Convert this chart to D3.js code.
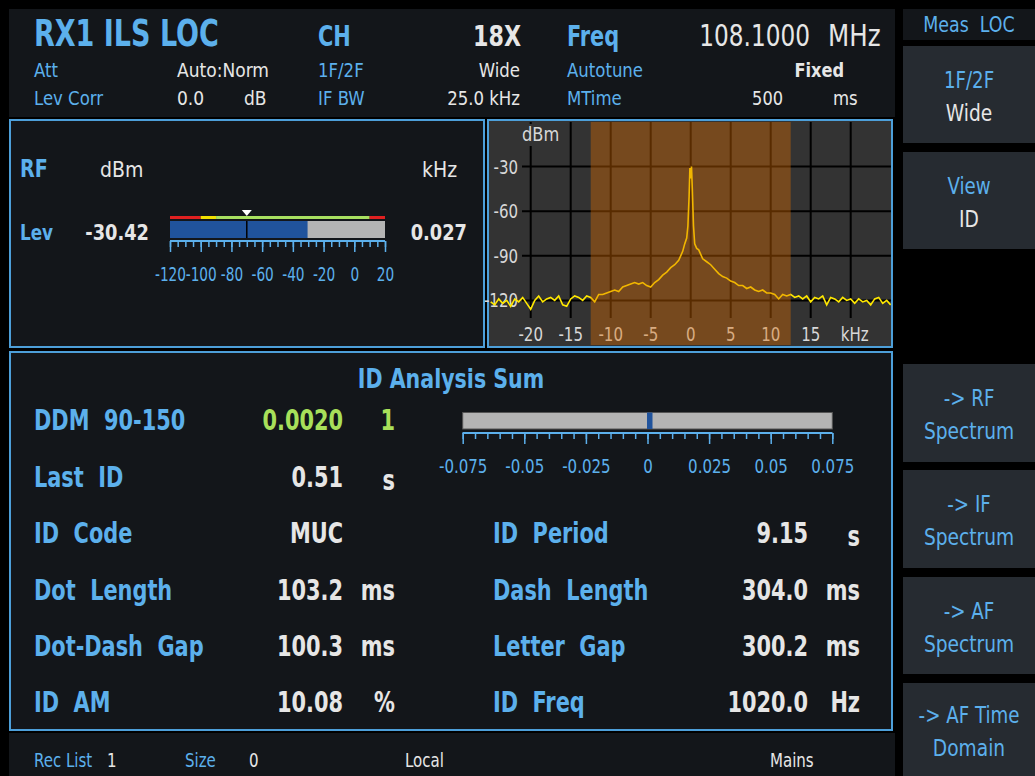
<!DOCTYPE html>
<html>
<head>
<meta charset="utf-8">
<script src="https://cdn.jsdelivr.net/npm/d3@7"></script>
<style>
  html, body { margin: 0; padding: 0; background: #000; overflow: hidden; }
  svg { display: block; }
  text { font-family: "DejaVu Sans Condensed", "DejaVu Sans", sans-serif; white-space: pre; }
</style>
</head>
<body>
<svg id="chart"></svg>
<script>
// header
const headerTitle = "RX1 ILS LOC";
const headerChannel = ["CH", "18X"];
const headerFreq = ["Freq", "108.1000", "MHz"];
const headerLeft = [["Att", "Auto:Norm", ""], ["Lev Corr", "0.0", "dB"]];
const headerMid = [["1F/2F", "Wide"], ["IF BW", "25.0 kHz"]];
const headerRight = [["Autotune", "Fixed", ""], ["MTime", "500", "ms"]];

// RF level bar
const rfUnits = ["dBm", "kHz"];
const rfLevel = -30.42;
const rfFreqOffset = 0.027;
const rfRefLevel = -70;
const rfScaleTicks = [-120, -100, -80, -60, -40, -20, 0, 20];
const rfLimitEdges = [-120, -100, -90, 10, 20];
const rfLimitState = ["fail", "warn", "pass", "fail"];

// IF spectrum
const specFreqTicks = [-20, -15, -10, -5, 0, 5, 10, 15, 20];
const specLevelTicks = [-30, -60, -90, -120];
const specBandwidth = 25;
const traceFreq = [-25, -24.5, -24, -23.5, -23, -22.5, -22, -21.5, -21, -20.5, -20, -19.5, -19, -18.5, -18, -17.5, -17, -16.5, -16, -15.5, -15, -14.5, -14, -13.5, -13, -12.5,
  -12, -11.5, -11, -10.5, -10, -9.5, -9, -8.5, -8, -7.5, -7, -6.5, -6, -5.5, -5, -4.5, -4, -3.5, -3, -2.5, -2, -1.5, -1, -0.75, -0.5, -0.35, -0.2, -0.1,
  0, 0.1, 0.2, 0.35, 0.5, 0.75, 1, 1.5, 2, 2.5, 3, 3.5, 4, 4.5, 5, 5.5, 6, 6.5, 7, 7.5, 8, 8.5, 9, 9.5, 10, 10.5, 11, 11.5, 12, 12.5,
  13, 13.5, 14, 14.5, 15, 15.5, 16, 16.5, 17, 17.5, 18, 18.5, 19, 19.5, 20, 20.5, 21, 21.5, 22, 22.5, 23, 23.5, 24, 24.5, 25];
const traceLevel = [-121, -123, -119, -122, -120, -124, -119, -121, -118, -122, -126, -120, -117, -121, -119, -118, -120, -117, -123, -124, -119, -117, -118, -120, -117, -118,
  -121, -116, -116, -115, -114, -113, -114, -111, -110, -109, -108, -109, -108, -110, -111, -108, -106, -103, -101, -98, -96, -93, -87, -82, -78, -70, -50, -31,
  -38, -30, -45, -70, -82, -85, -86, -92, -94, -96, -99, -102, -104, -105, -107, -108, -110, -110, -112, -111, -113, -114, -113, -115, -115, -116, -119, -116, -117, -116,
  -118, -117, -119, -117, -121, -118, -119, -117, -123, -118, -119, -121, -118, -120, -119, -122, -119, -121, -120, -123, -119, -118, -122, -120, -123];

// ID analysis
const ddmValue = 0.0020;
const ddmTicks = [-0.075, -0.05, -0.025, 0, 0.025, 0.05, 0.075];
const idLeftLabels = ["DDM  90-150", "Last  ID", "ID  Code", "Dot  Length", "Dot-Dash  Gap", "ID  AM"];
const idLeftValues = ["0.0020", "0.51", "MUC", "103.2", "100.3", "10.08"];
const idLeftUnits = ["1", "s", "", "ms", "ms", "%"];
const idRightLabels = ["ID  Period", "Dash  Length", "Letter  Gap", "ID  Freq"];
const idRightValues = ["9.15", "304.0", "300.2", "1020.0"];
const idRightUnits = ["s", "ms", "ms", "Hz"];

// softkeys and status line
const softkeys = [["Meas  LOC"], ["1F/2F", "Wide"], ["View", "ID"], ["-> RF", "Spectrum"], ["-> IF", "Spectrum"], ["-> AF", "Spectrum"], ["-> AF Time", "Domain"]];
const statusItems = [["Rec List", "1"], ["Size", "0"], ["", "Local"], ["", "Mains"]];

const W = 1035, H = 776;
const blue = "#5cb0ec", white = "#e6e6e6", panelBg = "#13161a", border = "#4d9fd9";
const limitColor = { fail: "#e02020", warn: "#f0e000", pass: "#a8e060" };

const svg = d3.select("#chart").attr("width", W).attr("height", H);
svg.append("rect").attr("width", W).attr("height", H).attr("fill", "#000");

// condensed text: the screen font is narrower than anything installed, so squeeze it
function txt(g, x, y, s, size, fill, opts = {}) {
  const sx = opts.sx || (opts.bold ? 0.8 : 0.9);
  return g.append("text").attr("transform", `translate(${x},${y}) scale(${sx},1)`).text(s)
    .attr("font-size", size).attr("fill", fill)
    .attr("font-weight", opts.bold ? "bold" : null)
    .attr("text-anchor", opts.anchor || "start");
}

// ---------- header ----------
const hdr = svg.append("g");
hdr.append("rect").attr("x", 9).attr("y", 9).attr("width", 886).attr("height", 108).attr("fill", panelBg);
txt(hdr, 34, 46, headerTitle, 38, blue, { bold: true, sx: 0.79 });
txt(hdr, 318, 46, headerChannel[0], 29, blue, { bold: true });
txt(hdr, 521, 46, headerChannel[1], 29, white, { bold: true, sx: 0.85, anchor: "end" });
txt(hdr, 567, 46, headerFreq[0], 29, blue, { bold: true });
txt(hdr, 810, 46, headerFreq[1], 30, white, { anchor: "end", sx: 0.86 });
txt(hdr, 828, 46, headerFreq[2], 30, white, { sx: 0.91 });
headerLeft.forEach((r, i) => {
  const y = 77 + i * 28;
  txt(hdr, 34, y, r[0], 20, blue, { sx: 0.92 });
  txt(hdr, 177, y, r[1], 20, white, { sx: 0.95 });
  txt(hdr, 244, y, r[2], 20, white, { sx: 0.95 });
});
headerMid.forEach((r, i) => {
  const y = 77 + i * 28;
  txt(hdr, 318, y, r[0], 20, blue, { sx: 0.92 });
  txt(hdr, 520, y, r[1], 20, white, { anchor: "end", sx: 0.92 });
});
headerRight.forEach((r, i) => {
  const y = 77 + i * 28;
  txt(hdr, 567, y, r[0], 20, blue, { sx: 0.92 });
  txt(hdr, i === 0 ? 844 : 783, y, r[1], 20, white, { anchor: "end", bold: i === 0, sx: 0.9 });
  txt(hdr, 833, y, r[2], 20, white, { sx: 0.92 });
});

// ---------- RF panel ----------
const rf = svg.append("g");
rf.append("rect").attr("x", 10).attr("y", 120).attr("width", 474).attr("height", 227)
  .attr("fill", panelBg).attr("stroke", border).attr("stroke-width", 2);
txt(rf, 20, 177, "RF", 25, blue, { bold: true, sx: 0.85 });
txt(rf, 100, 177, rfUnits[0], 21, white, { sx: 1 });
txt(rf, 422, 177, rfUnits[1], 21, white, { sx: 1 });
txt(rf, 20, 240, "Lev", 22, blue, { bold: true, sx: 0.85 });
txt(rf, 149, 240, rfLevel.toFixed(2), 22, white, { bold: true, anchor: "end", sx: 0.9 });
txt(rf, 467, 240, rfFreqOffset.toFixed(3), 22, white, { bold: true, anchor: "end", sx: 0.9 });

const xRf = d3.scaleLinear().domain([-120, 20]).range([170, 385]);
rf.selectAll("rect.lim").data(rfLimitState).join("rect").attr("class", "lim")
  .attr("x", (d, i) => xRf(rfLimitEdges[i])).attr("y", 216)
  .attr("width", (d, i) => xRf(rfLimitEdges[i + 1]) - xRf(rfLimitEdges[i])).attr("height", 3)
  .attr("fill", d => limitColor[d]);
rf.append("rect").attr("x", xRf(-120)).attr("y", 221).attr("width", xRf(20) - xRf(-120)).attr("height", 17).attr("fill", "#b4b4b4");
rf.append("rect").attr("x", xRf(-120)).attr("y", 221).attr("width", xRf(rfLevel) - xRf(-120)).attr("height", 17).attr("fill", "#20539c");
rf.append("line").attr("x1", xRf(rfRefLevel)).attr("x2", xRf(rfRefLevel)).attr("y1", 221).attr("y2", 238).attr("stroke", "#000").attr("stroke-width", 1.5);
rf.append("path").attr("d", `M${xRf(rfRefLevel) - 5},210 L${xRf(rfRefLevel) + 5},210 L${xRf(rfRefLevel)},216 Z`).attr("fill", "#fff");

const rfMinor = rf.append("g").attr("transform", "translate(0,241)")
  .call(d3.axisBottom(xRf).tickValues(d3.range(-120, 21, 5)).tickSize(6).tickFormat(""));
const rfMajor = rf.append("g").attr("transform", "translate(0,241)")
  .call(d3.axisBottom(xRf).tickValues(rfScaleTicks).tickSize(11).tickPadding(16).tickFormat(d => d));
[rfMinor, rfMajor].forEach(g => {
  g.selectAll("path.domain").attr("stroke", blue).attr("stroke-width", 2).attr("d", `M${xRf(-120)},0H${xRf(20)}`);
  g.selectAll(".tick line").attr("stroke", blue).attr("stroke-width", 1.5);
});
rfMajor.selectAll(".tick text").attr("fill", blue).attr("font-size", 19)
  .attr("font-family", null).attr("transform", "scale(0.8,1)");

// ---------- spectrum panel ----------
const sp = svg.append("g");
sp.append("rect").attr("x", 488).attr("y", 120).attr("width", 404).attr("height", 227)
  .attr("fill", "#333333").attr("stroke", border).attr("stroke-width", 2);
const xS = d3.scaleLinear().domain([-25, 25]).range([490.7, 890.7]);
const yS = d3.scaleLinear().domain([0, -150]).range([122, 345]);
sp.selectAll("line.vg").data(specFreqTicks).join("line").attr("class", "vg")
  .attr("x1", d => xS(d)).attr("x2", d => xS(d)).attr("y1", yS(0)).attr("y2", 318)
  .attr("stroke", "#000").attr("stroke-width", 2);
sp.selectAll("line.hg").data(specLevelTicks).join("line").attr("class", "hg")
  .attr("x1", 522).attr("x2", 891).attr("y1", d => yS(d)).attr("y2", d => yS(d))
  .attr("stroke", "#000").attr("stroke-width", 2);
sp.append("rect").attr("x", 520).attr("y", 124).attr("width", 44).attr("height", 22).attr("fill", "#333333");
txt(sp, 522, 141, "dBm", 19, "#d8d8d8", { sx: 0.95 });
specLevelTicks.forEach(d => txt(sp, 518, yS(d) + 7, String(d), 19, "#d8d8d8", { anchor: "end", sx: 0.88 }));
specFreqTicks.forEach(d => txt(sp, xS(d) + (d === 20 ? 4 : 0), 341, d === 20 ? "kHz" : String(d), 19, "#d8d8d8", { anchor: "middle", sx: 0.88 }));
const trace = d3.line().x((d, i) => xS(traceFreq[i])).y(d => yS(d));
sp.append("clipPath").attr("id", "spClip").append("rect").attr("x", 490).attr("y", 122).attr("width", 401).attr("height", 223);
sp.append("path").datum(traceLevel).attr("d", trace).attr("clip-path", "url(#spClip)")
  .attr("fill", "none").attr("stroke", "#ffe800").attr("stroke-width", 1.6);
sp.append("rect").attr("x", xS(-specBandwidth / 2)).attr("y", 122)
  .attr("width", xS(specBandwidth / 2) - xS(-specBandwidth / 2)).attr("height", 223)
  .attr("fill", "rgb(221,108,0)").attr("fill-opacity", 0.4);

// ---------- ID analysis panel ----------
const id = svg.append("g");
id.append("rect").attr("x", 10).attr("y", 352).attr("width", 882).attr("height", 378)
  .attr("fill", panelBg).attr("stroke", border).attr("stroke-width", 2);
txt(id, 451, 388, "ID Analysis Sum", 26, blue, { bold: true, anchor: "middle", sx: 0.88 });
const leftY = [430, 487, 543, 600, 656, 712];
idLeftLabels.forEach((s, i) => {
  const col = i === 0 ? "#a8e05a" : white;
  txt(id, 34, leftY[i], s, 29, blue, { bold: true });
  txt(id, 343, leftY[i], idLeftValues[i], 29, col, { bold: true, anchor: "end" });
  txt(id, 395, leftY[i] + (i === 1 ? 3 : 0), idLeftUnits[i], 29, col, { bold: true, anchor: "end" });
});
idRightLabels.forEach((s, i) => {
  const y = leftY[i + 2];
  txt(id, 493, y, s, 29, blue, { bold: true });
  txt(id, 808, y, idRightValues[i], 29, white, { bold: true, anchor: "end" });
  txt(id, 860, y + (i === 0 ? 3 : 0), idRightUnits[i], 29, white, { bold: true, anchor: "end" });
});

const xD = d3.scaleLinear().domain([-0.075, 0.075]).range([462.7, 832.3]);
id.append("rect").attr("x", xD(-0.075)).attr("y", 412.5).attr("width", xD(0.075) - xD(-0.075)).attr("height", 16.5)
  .attr("fill", "#b4b4b4").attr("stroke", "#555").attr("stroke-width", 1);
id.append("rect").attr("x", xD(0) - 0.5).attr("y", 412.5).attr("width", Math.max(5.5, xD(ddmValue) - xD(0))).attr("height", 16.5)
  .attr("fill", "#20539c");
const dMinor = id.append("g").attr("transform", "translate(0,433)")
  .call(d3.axisBottom(xD).tickValues(d3.range(-15, 16).map(k => k * 0.005)).tickSize(6).tickFormat(""));
const dMajor = id.append("g").attr("transform", "translate(0,433)")
  .call(d3.axisBottom(xD).tickValues(ddmTicks).tickSize(11).tickPadding(16).tickFormat(d => d === 0 ? "0" : String(d)));
[dMinor, dMajor].forEach(g => {
  g.selectAll("path.domain").attr("stroke", blue).attr("stroke-width", 2).attr("d", `M${xD(-0.075)},0H${xD(0.075)}`);
  g.selectAll(".tick line").attr("stroke", blue).attr("stroke-width", 1.5);
});
dMajor.selectAll(".tick text").attr("fill", blue).attr("font-size", 19).attr("font-family", null)
  .attr("transform", "scale(0.88,1)");

// ---------- status line ----------
const st = svg.append("g");
st.append("rect").attr("x", 9).attr("y", 733).attr("width", 886).attr("height", 43).attr("fill", panelBg);
const statusX = [[34, 107], [185, 249], [0, 405], [0, 770]];
statusItems.forEach((d, i) => {
  if (d[0]) txt(st, statusX[i][0], 767, d[0], 19, blue, { sx: 0.88 });
  txt(st, statusX[i][1], 767, d[1], 19, white, { sx: 0.88 });
});

// ---------- softkeys ----------
const sk = svg.append("g");
const keyTop = [9, 46, 152, 364, 470, 577, 683];
const keyBot = [40, 143, 249, 462, 568, 674, 776];
softkeys.forEach((lines, i) => {
  sk.append("rect").attr("x", 903).attr("y", keyTop[i]).attr("width", 132).attr("height", keyBot[i] - keyTop[i])
    .attr("fill", i === 0 ? panelBg : "#262b31");
  if (i === 0) {
    txt(sk, 969, 32, lines[0], 22, blue, { anchor: "middle", sx: 0.88 });
  } else {
    const cy = (keyTop[i] + keyBot[i]) / 2;
    txt(sk, 969, cy - 7, lines[0], 23, blue, { anchor: "middle", sx: 0.88 });
    txt(sk, 969, cy + 26, lines[1], 23, (i === 1 || i === 2) ? white : blue, { anchor: "middle", sx: 0.9 });
  }
});
</script>
</body>
</html>
